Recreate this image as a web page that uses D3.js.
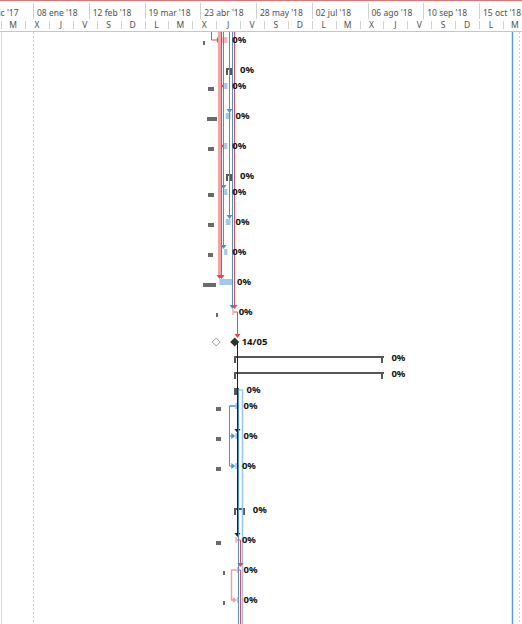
<!DOCTYPE html>
<html>
<head>
<meta charset="utf-8">
<script src="https://cdn.jsdelivr.net/npm/d3@7"></script>
<style>
    body { margin: 0; background: #fff; }
    svg { display: block; font-family: "Noto Sans", sans-serif; }
</style>
</head>
<body>
<div id="chart"></div>
<script>
// timescale (top tier every 35 days, bottom tier every 15 days)
const majorDates = ["2017-12-04", "2018-01-08", "2018-02-12", "2018-03-19", "2018-04-23", "2018-05-28", "2018-07-02", "2018-08-06", "2018-09-10", "2018-10-15"];
const majorLabels = ["04 dic '17", "08 ene '18", "12 feb '18", "19 mar '18", "23 abr '18", "28 may '18", "02 jul '18", "06 ago '18", "10 sep '18", "15 oct '18"];
const minorFirst = "2017-12-19";
const minorLabels = ["M", "X", "J", "V", "S", "D", "L", "M", "X", "J", "V", "S", "D", "L", "M", "X", "J", "V", "S", "D", "L", "M"];

// project lines
const markerDates = ["2018-01-08", "2018-11-09", "2018-11-05"];
const markerKinds = ["start", "finish", "status"];

// rows (number of text lines in the task name -> row height)
const rowLines = [2, 1, 2, 2, 2, 1, 2, 2, 2, 2, 2, 1, 1, 1, 1, 2, 2, 3, 2, 2, 2, 2];
const rowKind = ["task", "summary", "task", "task", "task", "summary", "task", "task", "task", "task", "task", "milestone",
    "summary", "summary", "summary", "task", "task", "task", "summary", "task", "task", "task"];
const rowCritical = [1, 0, 0, 0, 0, 0, 0, 0, 0, 0, 1, 1, 0, 0, 0, 0, 0, 0, 0, 1, 1, 1];
const rowStart = ["2018-05-06", "2018-05-09", "2018-05-08", "2018-05-09", "2018-05-08", "2018-05-09", "2018-05-08", "2018-05-09",
    "2018-05-08", "2018-05-05", "2018-05-13", "2018-05-14", "2018-05-14", "2018-05-14", "2018-05-14", "2018-05-15",
    "2018-05-15", "2018-05-15", "2018-05-14", "2018-05-15", "2018-05-16", "2018-05-16"];
const rowFinish = ["2018-05-10", "2018-05-13", "2018-05-10", "2018-05-12", "2018-05-10", "2018-05-13", "2018-05-10", "2018-05-12",
    "2018-05-10", "2018-05-13", "2018-05-14", "2018-05-14", "2018-08-16", "2018-08-16", "2018-05-17", "2018-05-17",
    "2018-05-17", "2018-05-16", "2018-05-21", "2018-05-16", "2018-05-17", "2018-05-17"];
const baseStart = ["2018-04-25", null, "2018-04-28", "2018-04-27", "2018-04-28", null, "2018-04-28", "2018-04-28",
    "2018-04-28", "2018-04-25", "2018-05-03", "2018-05-03", null, null, null, "2018-05-03",
    "2018-05-03", "2018-05-03", null, "2018-05-03", "2018-05-07", "2018-05-07"];
const baseFinish = ["2018-04-25", null, "2018-05-02", "2018-05-03", "2018-05-02", null, "2018-05-02", "2018-05-02",
    "2018-05-01", "2018-05-03", "2018-05-03", "2018-05-03", null, null, null, "2018-05-06",
    "2018-05-06", "2018-05-06", null, "2018-05-06", "2018-05-07", "2018-05-07"];
const rowLabel = ["0%", "0%", "0%", "0%", "0%", "0%", "0%", "0%", "0%", "0%", "0%", "14/05",
    "0%", "0%", "0%", "0%", "0%", "0%", "0%", "0%", "0%", "0%"];

// links: -1 = task above the view, 99 = task below the view
const linkFrom = [-1, -1, -1, -1, -1, -1, -1, -1, -1, -1, -1, 10, 11, 11, 15, 15, 14, 14, 19, 20, 20];
const linkTo = [0, 2, 4, 9, 9, 6, 8, 3, 7, 10, 10, 11, 16, 19, 16, 17, 99, 99, 20, 21, 99];
const linkVia = ["2018-04-30", "2018-05-05", "2018-05-05", "2018-05-05", "2018-05-06", "2018-05-07", "2018-05-07", "2018-05-11",
    "2018-05-11", "2018-05-13", "2018-05-14", "2018-05-16", "2018-05-16", "2018-05-16", "2018-05-11", "2018-05-11",
    "2018-05-17", "2018-05-19", "2018-05-18", "2018-05-12", "2018-05-18"];
const linkKind = ["crit", "crit", "crit", "hi", "crit", "norm", "norm", "norm", "norm", "norm", "crit", "crit", "sel", "sel",
    "norm", "norm", "norm", "light", "crit", "pink", "crit"];

const W = 522, H = 624, headerH = 32;
const parse = d3.timeParse("%Y-%m-%d");

const x = d3.scaleTime()
    .domain([parse("2018-01-08"), parse("2018-10-15")])
    .range([33, 479]);

const rowTop = [];
let acc = headerH;
rowLines.forEach(n => { rowTop.push(acc); acc += 14 * n + 2; });
const rowY = i => i < 0 ? headerH : (i >= rowLines.length ? H : rowTop[i] + 8);
const px = d => Math.round(x(parse(d))) + 0.5;

const tasks = rowKind.map((k, i) => ({
    i: i, kind: k, crit: rowCritical[i], start: rowStart[i], end: rowFinish[i],
    bs: baseStart[i], bf: baseFinish[i], label: rowLabel[i], y: rowY(i)
}));

const linkColor = { crit: "#e8474c", hi: "#f3a3a6", pink: "#f29c9f", norm: "#4a8fe0", light: "#9cc4ee", sel: "#1e1e1e" };
const linkWidth = { crit: 1, hi: 3, pink: 1.4, norm: 1, light: 1.5, sel: 1 };

const svg = d3.select("#chart").append("svg")
    .attr("width", W)
    .attr("height", H);

// ---- header
const head = svg.append("g").attr("class", "header");

head.append("line")
    .attr("x1", 0).attr("x2", W).attr("y1", 0.5).attr("y2", 0.5)
    .attr("stroke", "#e27373");

head.selectAll(".major")
    .data(majorDates)
    .enter()
    .append("line")
    .attr("x1", d => px(d)).attr("x2", d => px(d))
    .attr("y1", 3).attr("y2", 19)
    .attr("stroke", "#d2d2d2");

head.selectAll(".majorText")
    .data(majorDates)
    .enter()
    .append("text")
    .attr("x", d => x(parse(d)) + 4)
    .attr("y", 16)
    .attr("font-size", 8.5)
    .attr("fill", "#505050")
    .text((d, i) => majorLabels[i]);

const minorDates = minorLabels.map((l, i) => d3.timeDay.offset(parse(minorFirst), i * 15));

head.selectAll(".minor")
    .data(minorDates.concat([d3.timeDay.offset(parse(minorFirst), minorLabels.length * 15)]))
    .enter()
    .append("line")
    .attr("x1", d => Math.round(x(d)) + 0.5).attr("x2", d => Math.round(x(d)) + 0.5)
    .attr("y1", 21).attr("y2", 29)
    .attr("stroke", "#d2d2d2");

head.selectAll(".minorText")
    .data(minorDates)
    .enter()
    .append("text")
    .attr("x", d => (x(d) + x(d3.timeDay.offset(d, 15))) / 2)
    .attr("y", 28)
    .attr("text-anchor", "middle")
    .attr("font-size", 8.5)
    .attr("fill", "#505050")
    .text((d, i) => minorLabels[i]);

head.append("line")
    .attr("x1", 0).attr("x2", W).attr("y1", headerH - 0.5).attr("y2", headerH - 0.5)
    .attr("stroke", "#c6c6c6");

// ---- body
svg.append("clipPath").attr("id", "bodyClip")
    .append("rect").attr("x", 0).attr("y", headerH).attr("width", W).attr("height", H - headerH);

const body = svg.append("g").attr("clip-path", "url(#bodyClip)");

body.append("line")
    .attr("x1", 1.5).attr("x2", 1.5).attr("y1", headerH).attr("y2", H)
    .attr("stroke", "#d8d8d8");

body.selectAll(".marker")
    .data(markerDates)
    .enter()
    .append("line")
    .attr("x1", d => px(d)).attr("x2", d => px(d))
    .attr("y1", headerH).attr("y2", H)
    .attr("stroke", (d, i) => markerKinds[i] == "status" ? "#5b9be0" : "#cfcfcf")
    .attr("stroke-width", (d, i) => markerKinds[i] == "status" ? 1.5 : 1)
    .attr("stroke-dasharray", (d, i) => markerKinds[i] == "status" ? null : "2,2");

// baselines
const baseTasks = tasks.filter(t => t.bs && t.kind == "task");
body.selectAll(".baseline")
    .data(baseTasks)
    .enter()
    .append("rect")
    .attr("x", t => Math.round(x(parse(t.bs))))
    .attr("y", t => t.y + 1)
    .attr("width", t => Math.max(2, Math.round(x(parse(t.bf)) - x(parse(t.bs)))))
    .attr("height", 4)
    .attr("fill", "#6a6a6a");

body.selectAll(".baseMilestone")
    .data(tasks.filter(t => t.bs && t.kind == "milestone"))
    .enter()
    .append("path")
    .attr("d", t => {
        const cx = x(parse(t.bs)), cy = t.y;
        return `M${cx},${cy - 4}L${cx + 4},${cy}L${cx},${cy + 4}L${cx - 4},${cy}Z`;
    })
    .attr("fill", "#fff")
    .attr("stroke", "#9a9a9a");

// task bars
body.selectAll(".bar")
    .data(tasks.filter(t => t.kind == "task"))
    .enter()
    .append("rect")
    .attr("x", t => x(parse(t.start)))
    .attr("y", t => t.y - 3)
    .attr("width", t => Math.max(1.5, x(parse(t.end)) - x(parse(t.start))))
    .attr("height", 6)
    .attr("fill", t => t.crit ? "#f5b3b5" : "#a3c8ec");

// summary brackets
const sums = body.selectAll(".summary")
    .data(tasks.filter(t => t.kind == "summary"))
    .enter()
    .append("g");

sums.append("rect")
    .attr("x", t => Math.round(x(parse(t.start))))
    .attr("y", t => t.y - 2)
    .attr("width", t => Math.round(x(parse(t.end)) - x(parse(t.start))))
    .attr("height", 2)
    .attr("fill", "#575757");
sums.append("rect")
    .attr("x", t => Math.round(x(parse(t.start))))
    .attr("y", t => t.y - 2)
    .attr("width", 2).attr("height", 7)
    .attr("fill", "#575757");
sums.append("rect")
    .attr("x", t => Math.round(x(parse(t.end))) - 2)
    .attr("y", t => t.y - 2)
    .attr("width", 2).attr("height", 7)
    .attr("fill", "#575757");

// links
const links = linkFrom.map((f, i) => ({ from: f, to: linkTo[i], via: linkVia[i], kind: linkKind[i] }));

function linkGeom(l) {
    const vx = px(l.via);
    const y1 = rowY(l.from), y2 = rowY(l.to);
    let d;
    if (l.from >= 0) {
        const t = tasks[l.from];
        const ax = vx < x(parse(t.start)) ? x(parse(t.start)) : x(parse(t.end));
        d = `M${ax},${y1}H${vx}`;
    } else {
        d = `M${vx},${y1}`;
    }
    if (l.to >= rowLines.length) return { d: d + `V${y2}`, arrow: null };
    const t2 = tasks[l.to];
    const sx = x(parse(t2.start));
    if (sx > vx + 2) {
        d += `V${y2}H${sx - 3}`;
        return { d: d, arrow: `M${sx},${y2}L${sx - 4},${y2 - 3}L${sx - 4},${y2 + 3}Z` };
    }
    const ty = y2 - (t2.kind == "milestone" ? 4 : 3);
    d += `V${ty - 3}`;
    return { d: d, arrow: `M${vx},${ty}L${vx - 3},${ty - 4}L${vx + 3},${ty - 4}Z` };
}

const linkG = body.selectAll(".link")
    .data(links)
    .enter()
    .append("g");

linkG.append("path")
    .attr("d", l => linkGeom(l).d)
    .attr("fill", "none")
    .attr("stroke", l => linkColor[l.kind])
    .attr("stroke-width", l => linkWidth[l.kind]);

linkG.filter(l => linkGeom(l).arrow)
    .append("path")
    .attr("d", l => linkGeom(l).arrow)
    .attr("fill", l => l.kind == "hi" ? linkColor.crit : linkColor[l.kind]);

// milestones
body.selectAll(".milestone")
    .data(tasks.filter(t => t.kind == "milestone"))
    .enter()
    .append("path")
    .attr("d", t => {
        const cx = x(parse(t.start)) + 1, cy = t.y;
        return `M${cx},${cy - 4.5}L${cx + 4.5},${cy}L${cx},${cy + 4.5}L${cx - 4.5},${cy}Z`;
    })
    .attr("fill", "#303030");

// labels
body.selectAll(".label")
    .data(tasks)
    .enter()
    .append("text")
    .attr("x", t => x(parse(t.end)) + (t.kind == "task" ? 5 : 8))
    .attr("y", t => t.y)
    .attr("dy", "0.35em")
    .attr("font-size", 9.5)
    .attr("font-weight", "bold")
    .attr("fill", "#111")
    .text(t => t.label);
</script>
</body>
</html>
